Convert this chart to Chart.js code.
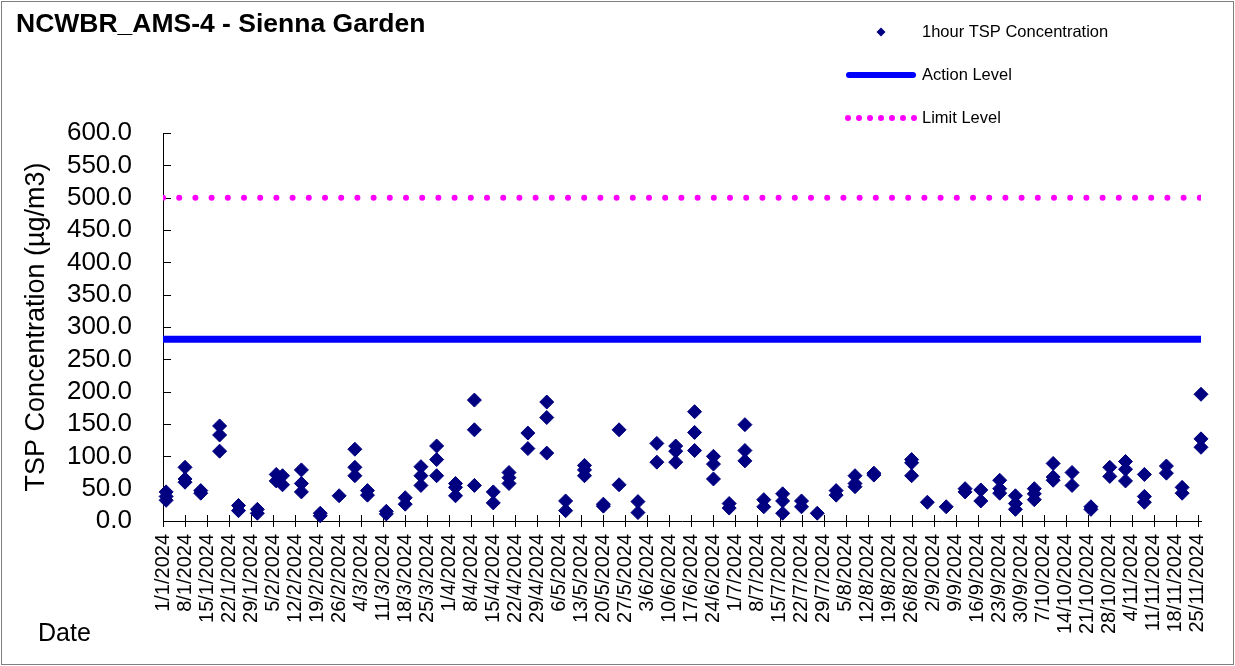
<!DOCTYPE html>
<html>
<head>
<meta charset="utf-8">
<title>NCWBR_AMS-4 - Sienna Garden</title>
<script src="https://cdn.jsdelivr.net/npm/chart.js@4.4.1/dist/chart.umd.min.js"></script>
<style>
    html, body { margin: 0; padding: 0; background: #fff; }
    #tspChart { display: block; }
</style>
</head>
<body>
<canvas id="tspChart" width="1235" height="666"></canvas>
<script>
const chartTitle = 'NCWBR_AMS-4 - Sienna Garden';

// one entry per 1-hour sample (date repeats when several samples were taken that day)
const sampleDates = [
    '2/1/2024', '2/1/2024', '2/1/2024',
    '8/1/2024', '8/1/2024', '8/1/2024',
    '13/1/2024', '13/1/2024',
    '19/1/2024', '19/1/2024', '19/1/2024',
    '25/1/2024', '25/1/2024',
    '31/1/2024', '31/1/2024',
    '6/2/2024', '6/2/2024',
    '8/2/2024', '8/2/2024',
    '14/2/2024', '14/2/2024', '14/2/2024',
    '20/2/2024', '20/2/2024',
    '26/2/2024',
    '2/3/2024', '2/3/2024', '2/3/2024',
    '6/3/2024', '6/3/2024',
    '12/3/2024', '12/3/2024',
    '18/3/2024', '18/3/2024',
    '23/3/2024', '23/3/2024', '23/3/2024',
    '28/3/2024', '28/3/2024', '28/3/2024',
    '3/4/2024', '3/4/2024', '3/4/2024',
    '9/4/2024', '9/4/2024', '9/4/2024',
    '15/4/2024', '15/4/2024',
    '20/4/2024', '20/4/2024', '20/4/2024',
    '26/4/2024', '26/4/2024',
    '2/5/2024', '2/5/2024', '2/5/2024',
    '8/5/2024', '8/5/2024',
    '14/5/2024', '14/5/2024', '14/5/2024',
    '20/5/2024', '20/5/2024',
    '25/5/2024', '25/5/2024',
    '31/5/2024', '31/5/2024',
    '6/6/2024', '6/6/2024',
    '12/6/2024', '12/6/2024', '12/6/2024',
    '18/6/2024', '18/6/2024', '18/6/2024',
    '24/6/2024', '24/6/2024', '24/6/2024',
    '29/6/2024', '29/6/2024',
    '4/7/2024', '4/7/2024', '4/7/2024',
    '10/7/2024', '10/7/2024',
    '16/7/2024', '16/7/2024', '16/7/2024',
    '22/7/2024', '22/7/2024',
    '27/7/2024',
    '2/8/2024', '2/8/2024',
    '8/8/2024', '8/8/2024', '8/8/2024',
    '14/8/2024', '14/8/2024',
    '26/8/2024', '26/8/2024', '26/8/2024',
    '31/8/2024',
    '6/9/2024',
    '12/9/2024', '12/9/2024',
    '17/9/2024', '17/9/2024',
    '23/9/2024', '23/9/2024', '23/9/2024',
    '28/9/2024', '28/9/2024', '28/9/2024',
    '4/10/2024', '4/10/2024', '4/10/2024',
    '10/10/2024', '10/10/2024', '10/10/2024',
    '16/10/2024', '16/10/2024',
    '22/10/2024', '22/10/2024',
    '28/10/2024', '28/10/2024',
    '2/11/2024', '2/11/2024', '2/11/2024',
    '8/11/2024', '8/11/2024', '8/11/2024',
    '15/11/2024', '15/11/2024',
    '20/11/2024', '20/11/2024',
    '26/11/2024', '26/11/2024', '26/11/2024'
];

const tspValues = [
    45, 38, 32,
    83, 65, 60,
    47, 43,
    147, 133, 108,
    24, 16,
    18, 12,
    72, 62,
    70, 56,
    79, 58, 45,
    12, 8,
    39,
    111, 83, 70,
    47, 40,
    15, 11,
    36, 26,
    84, 70, 55,
    116, 95, 70,
    58, 52, 39,
    187, 141, 55,
    45, 28,
    75, 67, 58,
    136, 112,
    184, 160, 105,
    31, 16,
    86, 79, 70,
    26, 23,
    141, 56,
    30, 13,
    120, 91,
    116, 108, 91,
    169, 137, 109,
    100, 88, 65,
    27, 20,
    149, 109, 93,
    33, 22,
    42, 31, 12,
    31, 22,
    12,
    47, 40,
    70, 58, 53,
    74, 71,
    95, 90, 70,
    29,
    22,
    50, 45,
    48, 31,
    63, 50, 43,
    39, 27, 18,
    50, 42, 33,
    89, 68, 63,
    75, 55,
    22, 18,
    83, 69,
    92, 80, 62,
    72, 38, 29,
    85, 74,
    52, 43,
    196, 127, 114
];

const tickLabels = [
    '1/1/2024', '8/1/2024', '15/1/2024', '22/1/2024', '29/1/2024',
    '5/2/2024', '12/2/2024', '19/2/2024', '26/2/2024',
    '4/3/2024', '11/3/2024', '18/3/2024', '25/3/2024',
    '1/4/2024', '8/4/2024', '15/4/2024', '22/4/2024', '29/4/2024',
    '6/5/2024', '13/5/2024', '20/5/2024', '27/5/2024',
    '3/6/2024', '10/6/2024', '17/6/2024', '24/6/2024',
    '1/7/2024', '8/7/2024', '15/7/2024', '22/7/2024', '29/7/2024',
    '5/8/2024', '12/8/2024', '19/8/2024', '26/8/2024',
    '2/9/2024', '9/9/2024', '16/9/2024', '23/9/2024', '30/9/2024',
    '7/10/2024', '14/10/2024', '21/10/2024', '28/10/2024',
    '4/11/2024', '11/11/2024', '18/11/2024', '25/11/2024'
];

const axisStart = '1/1/2024';
const axisEnd = '26/11/2024';
const actionLevel = 281;
const limitLevel = 500;

const fontFamily = '"Liberation Sans", Arial, Helvetica, sans-serif';
Chart.defaults.font.family = fontFamily;
Chart.defaults.color = '#000';

// days since 1 Jan 2024 for a d/m/yyyy string
function dayNumber(str) {
    const [d, m, y] = str.split('/').map(Number);
    return (Date.UTC(y, m - 1, d) - Date.UTC(2024, 0, 1)) / 86400000;
}

const xMin = dayNumber(axisStart);
const xMax = dayNumber(axisEnd);
const tickDays = tickLabels.map(dayNumber);

const points = sampleDates.map((d, i) => ({ x: dayNumber(d), y: tspValues[i] }));

const frameAndExtras = {
    id: 'frameAndExtras',
    beforeDraw(chart) {
        const ctx = chart.ctx;
        ctx.save();
        ctx.fillStyle = '#fff';
        ctx.fillRect(0, 0, chart.width, chart.height);
        ctx.strokeStyle = '#7f7f7f';
        ctx.lineWidth = 1;
        ctx.strokeRect(1.5, 1.5, chart.width - 3, chart.height - 3);
        ctx.restore();
    },
    beforeDatasetsDraw(chart) {
        // tick marks: inside on y, crossing on x
        const ctx = chart.ctx;
        const { x, y } = chart.scales;
        ctx.save();
        ctx.strokeStyle = '#000';
        ctx.lineWidth = 1;
        ctx.beginPath();
        y.ticks.forEach(t => {
            const py = Math.round(y.getPixelForValue(t.value)) + 0.5;
            ctx.moveTo(x.left, py);
            ctx.lineTo(x.left + 8, py);
        });
        x.ticks.forEach(t => {
            const px = Math.round(x.getPixelForValue(t.value)) + 0.5;
            ctx.moveTo(px, y.bottom - 6);
            ctx.lineTo(px, y.bottom + 6);
        });
        ctx.stroke();
        ctx.restore();
    },
    afterDraw(chart) {
        const ctx = chart.ctx;
        ctx.save();
        ctx.fillStyle = '#000';
        ctx.textAlign = 'left';

        ctx.font = 'bold 26.5px ' + fontFamily;
        ctx.textBaseline = 'alphabetic';
        ctx.fillText(chartTitle, 16, 32);

        ctx.font = '25px ' + fontFamily;
        ctx.fillText('Date', 38, 641);

        // legend
        const ds = chart.data.datasets;
        ctx.font = '16.5px ' + fontFamily;
        ctx.textBaseline = 'middle';

        ctx.fillStyle = ds[0].backgroundColor;
        ctx.beginPath();
        ctx.moveTo(881, 27.5);
        ctx.lineTo(885.5, 32);
        ctx.lineTo(881, 36.5);
        ctx.lineTo(876.5, 32);
        ctx.closePath();
        ctx.fill();
        ctx.fillStyle = '#000';
        ctx.fillText(ds[0].label, 922, 32);

        ctx.strokeStyle = ds[1].borderColor;
        ctx.lineWidth = 6;
        ctx.lineCap = 'round';
        ctx.beginPath();
        ctx.moveTo(849, 75);
        ctx.lineTo(913, 75);
        ctx.stroke();
        ctx.fillText(ds[1].label, 922, 75);

        ctx.fillStyle = ds[2].borderColor;
        for (let i = 0; i < 7; i++) {
            ctx.beginPath();
            ctx.arc(848 + i * 11, 118, 3, 0, Math.PI * 2);
            ctx.fill();
        }
        ctx.fillStyle = '#000';
        ctx.fillText(ds[2].label, 922, 118);
        ctx.restore();
    }
};

new Chart(document.getElementById('tspChart'), {
    type: 'scatter',
    data: {
        datasets: [{
            label: '1hour TSP Concentration',
            data: points,
            backgroundColor: '#000080',
            borderColor: '#000080',
            borderWidth: 1,
            pointStyle: 'rectRot',
            pointRadius: 7,
            pointHoverRadius: 7,
            clip: false,
            order: 1
        }, {
            type: 'line',
            label: 'Action Level',
            data: [{ x: xMin, y: actionLevel }, { x: xMax, y: actionLevel }],
            borderColor: '#0000ff',
            borderWidth: 7,
            pointRadius: 0,
            order: 3
        }, {
            type: 'line',
            label: 'Limit Level',
            data: [{ x: xMin, y: limitLevel }, { x: xMax, y: limitLevel }],
            borderColor: '#ff00ff',
            borderWidth: 6,
            borderDash: [0, 16.2],
            borderCapStyle: 'round',
            pointRadius: 0,
            order: 2
        }]
    },
    options: {
        responsive: false,
        devicePixelRatio: 1,
        animation: false,
        events: [],
        layout: { padding: { left: 0, right: 34, top: 133, bottom: 0 } },
        plugins: {
            legend: { display: false },
            title: { display: false },
            tooltip: { enabled: false }
        },
        scales: {
            x: {
                type: 'linear',
                min: xMin,
                max: xMax,
                afterBuildTicks: scale => {
                    scale.ticks = tickDays.map(v => ({ value: v }));
                },
                afterFit: scale => { scale.height = 145; },
                ticks: {
                    autoSkip: false,
                    minRotation: 90,
                    maxRotation: 90,
                    padding: 13,
                    font: { size: 20 },
                    color: '#000',
                    callback: value => tickLabels[tickDays.indexOf(value)]
                },
                grid: { drawOnChartArea: false, drawTicks: false },
                border: { color: '#000', width: 1 }
            },
            y: {
                min: 0,
                max: 600,
                afterFit: scale => { scale.width = 163; },
                ticks: {
                    stepSize: 50,
                    autoSkip: false,
                    padding: 31,
                    font: { size: 26 },
                    color: '#000',
                    callback: value => value.toFixed(1)
                },
                title: {
                    display: true,
                    text: 'TSP Concentration (µg/m3)',
                    font: { size: 27 },
                    color: '#000',
                    padding: { top: 20, bottom: 0 }
                },
                grid: { drawOnChartArea: false, drawTicks: false },
                border: { color: '#000', width: 1 }
            }
        }
    },
    plugins: [frameAndExtras]
});
</script>
</body>
</html>
